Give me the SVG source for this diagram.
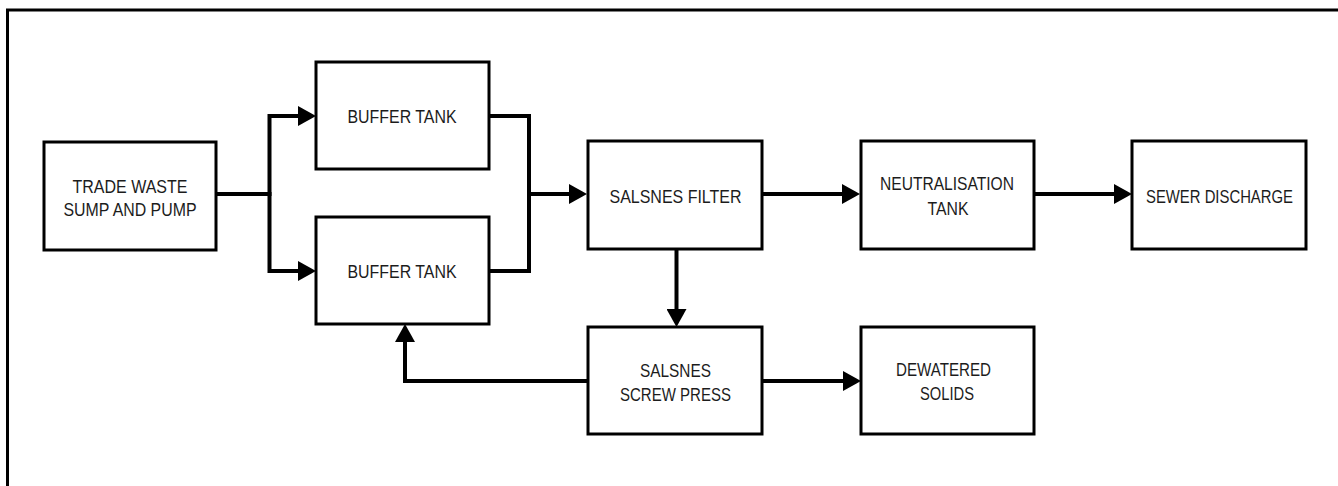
<svg xmlns="http://www.w3.org/2000/svg" width="1338" height="486" viewBox="0 0 1338 486">
  <style>
    .box { fill: #ffffff; stroke: #000000; stroke-width: 3; }
    .lbl { font-family: "Liberation Sans", Arial, sans-serif; font-size: 18px; fill: #1c1c1c; text-anchor: middle; }
    .conn { fill: none; stroke: #000000; stroke-width: 4; stroke-linejoin: miter; stroke-linecap: butt; }
    .frame { fill: none; stroke: #000000; stroke-width: 3; }
  </style>
  <defs>
    <marker id="arrow" markerUnits="userSpaceOnUse" viewBox="0 0 18 20" refX="4" refY="10" markerWidth="18" markerHeight="20" orient="auto">
      <path d="M0,0 L18,10 L0,20 Z" fill="#000000"/>
    </marker>
  </defs>
  <rect width="1338" height="486" fill="#ffffff"/>
  <path class="frame" d="M7.5,490 V10 H1345"/>

  <g id="connectors">
    <path class="conn" d="M216,194 H269.5 V116 H302" marker-end="url(#arrow)"/>
    <path class="conn" d="M269.5,192 V271 H302" marker-end="url(#arrow)"/>
    <path class="conn" d="M489,116 H529 V194 H573" marker-end="url(#arrow)"/>
    <path class="conn" d="M489,271 H529 V192"/>
    <path class="conn" d="M762,194 H846" marker-end="url(#arrow)"/>
    <path class="conn" d="M1034,194 H1118" marker-end="url(#arrow)"/>
    <path class="conn" d="M676.5,249 V313" marker-end="url(#arrow)"/>
    <path class="conn" d="M588,381 H405 V338" marker-end="url(#arrow)"/>
    <path class="conn" d="M762,381 H847" marker-end="url(#arrow)"/>
  </g>

  <g id="trade-waste">
    <rect class="box" x="44" y="142" width="172" height="108"/>
    <text class="lbl" x="130" y="192.5" textLength="115" lengthAdjust="spacingAndGlyphs">TRADE WASTE</text>
    <text class="lbl" x="130" y="216" textLength="133" lengthAdjust="spacingAndGlyphs">SUMP AND PUMP</text>
  </g>
  <g id="buffer-tank-1">
    <rect class="box" x="316" y="62" width="173" height="107"/>
    <text class="lbl" x="402" y="122.5" textLength="109" lengthAdjust="spacingAndGlyphs">BUFFER TANK</text>
  </g>
  <g id="buffer-tank-2">
    <rect class="box" x="316" y="217" width="173" height="107"/>
    <text class="lbl" x="402" y="277.5" textLength="109" lengthAdjust="spacingAndGlyphs">BUFFER TANK</text>
  </g>
  <g id="salsnes-filter">
    <rect class="box" x="588" y="141" width="174" height="108"/>
    <text class="lbl" x="675.5" y="202.5" textLength="132" lengthAdjust="spacingAndGlyphs">SALSNES FILTER</text>
  </g>
  <g id="neutralisation-tank">
    <rect class="box" x="861" y="141" width="173" height="108"/>
    <text class="lbl" x="947" y="190" textLength="134" lengthAdjust="spacingAndGlyphs">NEUTRALISATION</text>
    <text class="lbl" x="948" y="214.5" textLength="41" lengthAdjust="spacingAndGlyphs">TANK</text>
  </g>
  <g id="sewer-discharge">
    <rect class="box" x="1132" y="141" width="174" height="108"/>
    <text class="lbl" x="1219.5" y="202.5" textLength="147" lengthAdjust="spacingAndGlyphs">SEWER DISCHARGE</text>
  </g>
  <g id="salsnes-screw-press">
    <rect class="box" x="588" y="327" width="174" height="107"/>
    <text class="lbl" x="675.5" y="376.5" textLength="71" lengthAdjust="spacingAndGlyphs">SALSNES</text>
    <text class="lbl" x="675.5" y="400.5" textLength="111" lengthAdjust="spacingAndGlyphs">SCREW PRESS</text>
  </g>
  <g id="dewatered-solids">
    <rect class="box" x="861" y="327" width="173" height="107"/>
    <text class="lbl" x="943.5" y="376" textLength="95" lengthAdjust="spacingAndGlyphs">DEWATERED</text>
    <text class="lbl" x="947" y="400" textLength="54" lengthAdjust="spacingAndGlyphs">SOLIDS</text>
  </g>
</svg>
